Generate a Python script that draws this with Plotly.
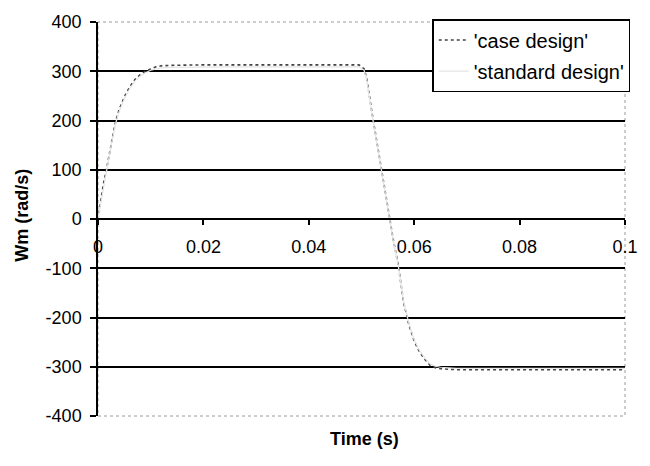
import plotly.graph_objects as go

# Time (s)
time_s = [0, 0.0003, 0.0007, 0.001, 0.0016, 0.002, 0.0025, 0.003, 0.0034, 0.004,
          0.005, 0.006, 0.007, 0.008, 0.009, 0.010, 0.011, 0.012, 0.014, 0.02,
          0.025, 0.03, 0.035, 0.04, 0.045, 0.0495, 0.0505, 0.051, 0.052, 0.053,
          0.054, 0.055, 0.056, 0.057, 0.058, 0.059, 0.060, 0.061, 0.062, 0.063,
          0.064, 0.065, 0.066, 0.068, 0.07, 0.075, 0.08, 0.085, 0.09, 0.095, 0.1]

# 'case design' speed Wm (rad/s)
case_design = [0, 20, 50, 70, 100, 125, 155, 180, 200, 222,
               248, 268, 283, 293, 300, 305, 309, 311, 312, 313,
               313, 313, 313, 313, 313, 313, 305, 285, 215, 150,
               85, 20, -40, -95, -170, -215, -248, -270, -285, -297,
               -302, -304, -305, -306, -306, -306, -306, -306, -306, -306, -306]

# 'standard design' speed Wm (rad/s)
standard_design = [0, 18, 46, 66, 96, 120, 150, 176, 196, 218,
                   244, 264, 280, 290, 297, 302, 305, 307, 308, 309,
                   309, 309, 309, 309, 309, 309, 302, 282, 212, 148,
                   83, 18, -42, -97, -168, -212, -245, -267, -282, -294,
                   -299, -301, -302, -303, -303, -303, -303, -303, -303, -303, -303]

x_ticks = [0, 0.02, 0.04, 0.06, 0.08, 0.1]
x_tick_text = ["0", "0.02", "0.04", "0.06", "0.08", "0.1"]
y_ticks = [-400, -300, -200, -100, 0, 100, 200, 300, 400]
y_tick_text = ["-400", "-300", "-200", "-100", "0", "100", "200", "300", "400"]
y_grid = [-300, -200, -100, 0, 100, 200, 300]

FONT = "Liberation Sans, Arial, sans-serif"

fig = go.Figure()
fig.add_trace(go.Scatter(
    x=time_s, y=case_design, mode="lines", name="'case design'",
    legendgroup="a",
    line=dict(color="#444444", width=1.6, dash="dot"),
))
fig.add_trace(go.Scatter(
    x=time_s, y=standard_design, mode="lines", name="'standard design'",
    legendgroup="b",
    line=dict(color="#e4e4e4", width=1.2),
))
# invisible trace to activate the grid axis
fig.add_trace(go.Scatter(x=[None], y=[None], yaxis="y2", showlegend=False,
                         hoverinfo="skip"))

fig.update_layout(
    width=650, height=466,
    margin=dict(l=98, r=18, t=18, b=50),
    paper_bgcolor="white", plot_bgcolor="white",
    font=dict(family=FONT, size=18, color="black"),
    showlegend=True,
    legend=dict(
        x=1.01, xanchor="right", y=1.0075, yanchor="top",
        bgcolor="white", bordercolor="black", borderwidth=1.5,
        font=dict(family=FONT, size=20, color="black"),
        tracegroupgap=2,
    ),
    xaxis=dict(
        range=[0, 0.1], anchor="free", position=0.5,
        tickvals=x_ticks, ticktext=x_tick_text,
        showline=True, linecolor="black", linewidth=2,
        ticks="outside", ticklen=5, tickwidth=1.5, tickcolor="black",
        showgrid=False, zeroline=False,
        tickfont=dict(size=18), ticklabelstandoff=6,
    ),
    yaxis=dict(
        range=[-400, 400], tickvals=y_ticks, ticktext=y_tick_text,
        showline=True, linecolor="black", linewidth=1.5,
        ticks="outside", ticklen=6, tickwidth=1.5, tickcolor="black",
        showgrid=False, zeroline=False,
        tickfont=dict(size=18), ticklabelstandoff=5,
    ),
    yaxis2=dict(
        range=[-400, 400], overlaying="y", tickvals=y_grid,
        showgrid=True, gridcolor="black", gridwidth=1.8,
        showticklabels=False, zeroline=False, showline=False, ticks="",
    ),
    shapes=[dict(type="rect", xref="paper", yref="paper", x0=0, x1=1, y0=0, y1=1,
                 line=dict(color="#9a9a9a", width=1, dash="dot"), layer="below")],
    annotations=[
        dict(text="<b>Time (s)</b>", xref="paper", yref="paper", x=0.505, y=-0.027,
             xanchor="center", yanchor="top", showarrow=False,
             font=dict(family=FONT, size=18, color="black")),
        dict(text="<b>Wm (rad/s)</b>", xref="paper", yref="paper", x=-0.145, y=0.51,
             xanchor="center", yanchor="middle", textangle=-90, showarrow=False,
             font=dict(family=FONT, size=18, color="black")),
    ],
)

fig.write_html("out.html")
